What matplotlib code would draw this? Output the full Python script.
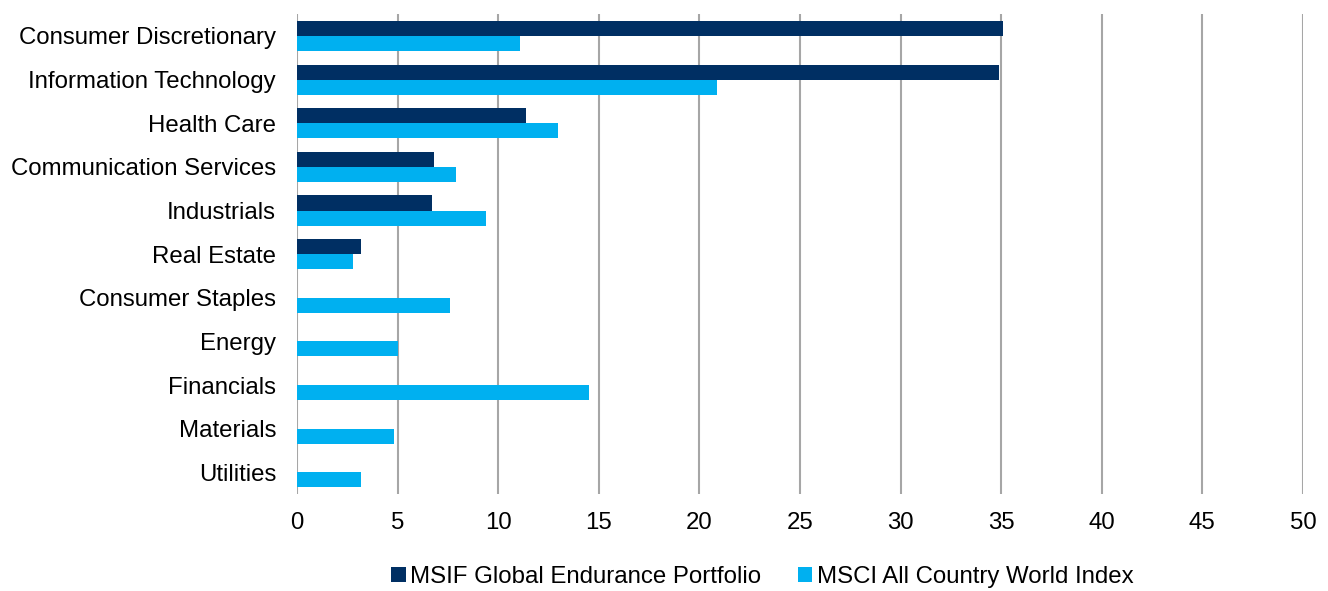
import matplotlib
matplotlib.use("Agg")
import matplotlib.pyplot as plt
import numpy as np

plt.rcParams['font.family'] = ['Liberation Sans', 'DejaVu Sans']

sectors = ["Consumer Discretionary", "Information Technology", "Health Care",
           "Communication Services", "Industrials", "Real Estate",
           "Consumer Staples", "Energy", "Financials", "Materials", "Utilities"]
portfolio = [35.1, 34.9, 11.4, 6.8, 6.7, 3.2, 0, 0, 0, 0, 0]
index_acwi = [11.1, 20.9, 13.0, 7.9, 9.4, 2.8, 7.6, 5.0, 14.5, 4.8, 3.2]

dark = "#002F63"
light = "#00B0F0"

fig = plt.figure(figsize=(13.28, 5.91), dpi=100)
ax = fig.add_axes([0.2236, 0.164, 0.7575, 0.812])

y = np.arange(len(sectors))
h = 0.345
ax.barh(y - h/2, portfolio, height=h, color=dark, label="MSIF Global Endurance Portfolio", zorder=3)
ax.barh(y + h/2, index_acwi, height=h, color=light, label="MSCI All Country World Index", zorder=3)

ax.set_xlim(0, 50)
ax.set_ylim(len(sectors) - 0.5, -0.5)
ax.set_xticks(np.arange(0, 51, 5))
ax.set_yticks(y)
ax.set_yticklabels(sectors)
ax.grid(axis="x", color="#A6A6A6", linewidth=1.5, zorder=0)
for s in ax.spines.values():
    s.set_visible(False)
ax.tick_params(length=0, labelsize=17.3, colors="black")
ax.tick_params(axis="x", pad=13)
ax.tick_params(axis="y", pad=15)

ax.legend(loc="center", bbox_to_anchor=(0.574, 0.024), bbox_transform=fig.transFigure,
          ncol=2, frameon=False, fontsize=17.3, handlelength=0.6, handleheight=0.6,
          handletextpad=0.2, columnspacing=1.5)

plt.savefig("out.png", dpi=100)
plt.close()
